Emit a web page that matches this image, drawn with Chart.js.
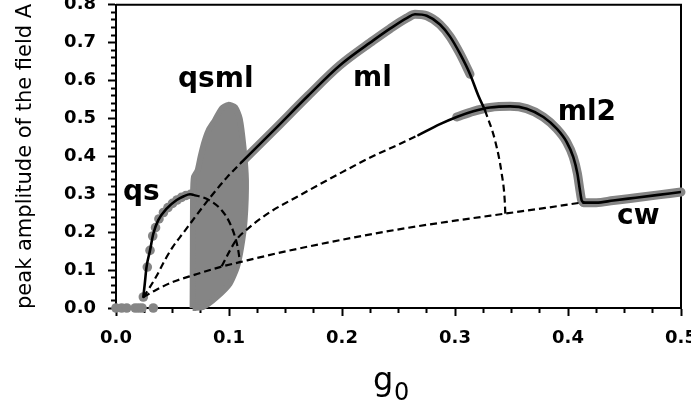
<!DOCTYPE html>
<html>
<head>
<meta charset="utf-8">
<title>Peak amplitude versus g0</title>
<script src="https://cdn.jsdelivr.net/npm/chart.js@4/dist/chart.umd.min.js"></script>
<style>
  html, body { margin: 0; padding: 0; background: #fff; overflow: hidden; }
  #wrap { width: 691px; height: 407px; }
</style>
</head>
<body>
<div id="wrap"><canvas id="amplitudeChart" width="691" height="407"></canvas></div>
<script>
// g0 (x) and peak amplitude A (y), one pair of arrays per branch

// trivial solution below threshold
const zeroG = [0.0, 0.005, 0.0095, 0.017, 0.02, 0.023, 0.033];
const zeroA = [0, 0, 0, 0, 0, 0, 0];

// qs, simulated points and stable branch
const qsDotG = [0.0242, 0.0277, 0.0301, 0.0325, 0.035, 0.038, 0.042, 0.046, 0.05, 0.054, 0.058, 0.062, 0.066];
const qsDotA = [0.029, 0.108, 0.152, 0.19, 0.212, 0.235, 0.252, 0.265, 0.276, 0.285, 0.292, 0.297, 0.3];
const qsStableG = [0.0242, 0.0255, 0.027, 0.0301, 0.033, 0.0374, 0.0448, 0.0537, 0.06, 0.0655, 0.068];
const qsStableA = [0.029, 0.065, 0.108, 0.152, 0.196, 0.232, 0.262, 0.285, 0.295, 0.3, 0.299];
const qsUnstableG = [0.068, 0.0817, 0.0935, 0.1009, 0.1062, 0.1082, 0.1097];
const qsUnstableA = [0.299, 0.286, 0.258, 0.223, 0.179, 0.152, 0.121];

// qsml, outline of the cloud of simulated maxima
const qsmlG = [0.0678, 0.068, 0.0682, 0.069, 0.0722, 0.0748, 0.0778, 0.082, 0.0876, 0.0935, 0.0994,
               0.1053, 0.1095, 0.1128, 0.115, 0.1138, 0.1108, 0.107, 0.1005, 0.0891, 0.0773, 0.07, 0.0678];
const qsmlA = [0.0, 0.15, 0.3, 0.346, 0.363, 0.398, 0.434, 0.469, 0.4955, 0.526, 0.536,
               0.53, 0.5, 0.425, 0.337, 0.231, 0.161, 0.108, 0.064, 0.029, 0.003, 0.0, 0.0];

// ml
const mlUnstableG = [0.0242, 0.03, 0.036, 0.043, 0.05, 0.06, 0.07, 0.0826, 0.098, 0.1112];
const mlUnstableA = [0.029, 0.055, 0.085, 0.125, 0.16, 0.2, 0.24, 0.289, 0.344, 0.385];
const mlStableG = [0.1112, 0.14, 0.17, 0.198, 0.2277, 0.2425, 0.2573, 0.2646, 0.275, 0.2867, 0.2956, 0.3044, 0.3133, 0.3206, 0.3265];
const mlStableA = [0.385, 0.47, 0.56, 0.64, 0.706, 0.737, 0.765, 0.775, 0.771, 0.748, 0.716, 0.671, 0.617, 0.561, 0.522];
const mlDropG = [0.3265, 0.3354, 0.3413, 0.344, 0.3445];
const mlDropA = [0.522, 0.4425, 0.355, 0.284, 0.249];

// ml2
const ml2UnstableG = [0.0935, 0.1009, 0.1062, 0.1186, 0.1363, 0.16, 0.198, 0.2277, 0.2484, 0.2676];
const ml2UnstableA = [0.11, 0.152, 0.179, 0.214, 0.253, 0.293, 0.355, 0.401, 0.429, 0.456];
const ml2StableG = [0.2676, 0.2867, 0.3015, 0.3162, 0.331, 0.3487, 0.3634, 0.3782, 0.39, 0.3988, 0.4047, 0.4083, 0.4106, 0.4121, 0.4137];
const ml2StableA = [0.456, 0.485, 0.504, 0.519, 0.529, 0.532, 0.526, 0.504, 0.473, 0.438, 0.398, 0.355, 0.31, 0.284, 0.279];

// cw
const cwUnstableG = [0.0242, 0.035, 0.0507, 0.07, 0.092, 0.1097, 0.148, 0.2, 0.257, 0.3015, 0.3442, 0.38, 0.4136];
const cwUnstableA = [0.029, 0.047, 0.069, 0.088, 0.108, 0.121, 0.148, 0.18, 0.211, 0.231, 0.249, 0.264, 0.279];
const cwStableG = [0.4137, 0.425, 0.44, 0.46, 0.48, 0.5];
const cwStableA = [0.278, 0.278, 0.2835, 0.291, 0.2985, 0.306];

// branch names and where they sit (left end of the baseline)
const branchNames = ['qs', 'qsml', 'ml', 'ml2', 'cw'];
const branchNameG = [0.0062, 0.0549, 0.2097, 0.391, 0.4434];
const branchNameA = [0.2842, 0.5823, 0.585, 0.495, 0.2213];

const GREY = '#858585';

function pts(gs, as) {
  return gs.map((g, i) => ({ x: g, y: as[i] }));
}

function solid(gs, as) {
  return {
    data: pts(gs, as), showLine: true, pointRadius: 0, borderColor: '#000', borderWidth: 2.6,
    cubicInterpolationMode: 'monotone', borderCapStyle: 'round', fill: false
  };
}

function dashed(gs, as) {
  return {
    data: pts(gs, as), showLine: true, pointRadius: 0, borderColor: '#000', borderWidth: 2.2,
    borderDash: [7, 4], cubicInterpolationMode: 'monotone', fill: false
  };
}

function band(gs, as) {
  return {
    data: pts(gs, as), showLine: true, pointRadius: 0, borderColor: GREY, borderWidth: 9,
    cubicInterpolationMode: 'monotone', borderCapStyle: 'round', borderJoinStyle: 'round', fill: false, clip: false
  };
}

function dots(gs, as) {
  return {
    data: pts(gs, as), showLine: false, pointRadius: 4.8, pointBackgroundColor: GREY,
    pointBorderWidth: 0, clip: false
  };
}

const frameAndNames = {
  id: 'frameAndNames',
  beforeDatasetsDraw(chart) {
    const { ctx, chartArea: a } = chart;
    ctx.save();
    ctx.strokeStyle = '#000';
    ctx.lineWidth = 2;
    ctx.beginPath();
    ctx.moveTo(a.left, a.top);
    ctx.lineTo(a.right, a.top);
    ctx.lineTo(a.right, a.bottom);
    ctx.stroke();
    ctx.restore();
  },
  afterDraw(chart) {
    const { ctx, scales: { x, y } } = chart;
    ctx.save();
    ctx.fillStyle = '#000';
    ctx.textAlign = 'left';
    ctx.textBaseline = 'alphabetic';
    ctx.font = 'bold 28px "DejaVu Sans"';
    branchNames.forEach((name, i) => {
      ctx.fillText(name, x.getPixelForValue(branchNameG[i]), y.getPixelForValue(branchNameA[i]));
    });
    // x axis title: g with subscript 0
    ctx.font = '32px "DejaVu Sans"';
    ctx.fillText('g', 373, 390);
    ctx.font = '24px "DejaVu Sans"';
    ctx.fillText('0', 394, 400);
    ctx.restore();
  }
};

const tickFont = { family: 'DejaVu Sans', size: 18, weight: 'bold' };

// eslint-disable-next-line no-new
new Chart(document.getElementById('amplitudeChart'), {
  type: 'scatter',
  data: {
    datasets: [
      solid(qsStableG, qsStableA),
      solid(mlStableG, mlStableA),
      solid(ml2StableG, ml2StableA),
      solid(cwStableG, cwStableA),
      dashed(qsUnstableG, qsUnstableA),
      dashed(mlUnstableG, mlUnstableA),
      dashed(mlDropG, mlDropA),
      dashed(ml2UnstableG, ml2UnstableA),
      dashed(cwUnstableG, cwUnstableA),
      band(mlStableG.slice(0, 13), mlStableA.slice(0, 13)),
      band(ml2StableG.slice(2), ml2StableA.slice(2)),
      band(cwStableG, cwStableA),
      {
        data: pts(qsmlG, qsmlA), showLine: true, pointRadius: 0, borderColor: GREY, borderWidth: 6,
        backgroundColor: GREY, fill: 'shape', tension: 0.2, borderJoinStyle: 'round', clip: false
      },
      dots(qsDotG, qsDotA),
      dots(zeroG, zeroA)
    ]
  },
  options: {
    responsive: false,
    animation: false,
    devicePixelRatio: 1,
    layout: { padding: { left: 0, top: 4, right: 10, bottom: 0 } },
    plugins: { legend: { display: false }, tooltip: { enabled: false } },
    scales: {
      x: {
        type: 'linear',
        min: 0,
        max: 0.5,
        afterFit: (scale) => {
          scale.height = 99;
          scale.paddingLeft = 0;
          scale.paddingRight = 0;
        },
        border: { display: true, color: '#000', width: 2 },
        grid: {
          drawOnChartArea: false,
          color: '#000',
          tickLength: 8,
          tickWidth: 2,
          tickBorderDash: (ctx) => (ctx.index % 4 === 0 ? [] : [4, 40])
        },
        ticks: {
          stepSize: 0.025,
          autoSkip: false,
          maxRotation: 0,
          padding: 12,
          color: '#000',
          font: tickFont,
          callback: (value, index) => (index % 4 === 0 ? value.toFixed(1) : '')
        }
      },
      y: {
        type: 'linear',
        min: 0,
        max: 0.8,
        afterFit: (scale) => {
          scale.width = 116;
          scale.paddingTop = 0;
          scale.paddingBottom = 0;
        },
        border: { display: true, color: '#000', width: 2 },
        grid: {
          drawOnChartArea: false,
          color: '#000',
          tickLength: 8,
          tickWidth: 2,
          tickBorderDash: (ctx) => (ctx.index % 5 === 0 ? [] : [0, 3, 4, 40])
        },
        ticks: {
          stepSize: 0.02,
          autoSkip: false,
          padding: 12,
          color: '#000',
          font: tickFont,
          callback: (value, index) => (index % 5 === 0 ? value.toFixed(1) : '')
        },
        title: {
          display: true,
          text: 'peak amplitude of the field A',
          color: '#000',
          font: { family: 'DejaVu Sans', size: 21 },
          padding: { top: 13, bottom: 0 }
        }
      }
    }
  },
  plugins: [frameAndNames]
});
</script>
</body>
</html>
